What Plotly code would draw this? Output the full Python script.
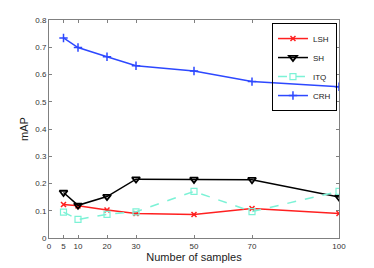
import plotly.graph_objects as go

samples = [5, 10, 20, 30, 50, 70, 100]
lsh = [0.123, 0.118, 0.103, 0.090, 0.086, 0.108, 0.090]
sh = [0.167, 0.120, 0.152, 0.216, 0.215, 0.214, 0.150]
itq = [0.095, 0.068, 0.087, 0.096, 0.171, 0.097, 0.171]
crh = [0.734, 0.699, 0.665, 0.632, 0.613, 0.574, 0.555]
x_ticks = [0, 5, 10, 20, 30, 50, 70, 100]
y_ticks = [0, 0.1, 0.2, 0.3, 0.4, 0.5, 0.6, 0.7, 0.8]
y_tick_text = ["0", "0.1", "0.2", "0.3", "0.4", "0.5", "0.6", "0.7", "0.8"]

FONT = "Liberation Sans, Arial"

fig = go.Figure()
fig.add_trace(go.Scatter(x=samples, y=lsh, name="LSH", mode="lines+markers",
                         line=dict(color="#ff2020", width=1.5),
                         marker=dict(symbol="x-thin", size=5, line=dict(color="#ff2020", width=1.5))))
fig.add_trace(go.Scatter(x=samples, y=sh, name="SH", mode="lines+markers",
                         line=dict(color="black", width=1.5),
                         marker=dict(symbol="triangle-down-open", size=7, color="black",
                                     line=dict(color="black", width=1.8))))
fig.add_trace(go.Scatter(x=samples, y=itq, name="ITQ", mode="lines+markers",
                         line=dict(color="#7cf2d6", width=1.5, dash="dash"),
                         marker=dict(symbol="square-open", size=6, color="#7cf2d6",
                                     line=dict(color="#7cf2d6", width=1.2))))
fig.add_trace(go.Scatter(x=samples, y=crh, name="CRH", mode="lines+markers",
                         line=dict(color="#2d48ff", width=1.5),
                         marker=dict(symbol="cross-thin", size=6, line=dict(color="#2d48ff", width=1.5))))

axis_common = dict(showline=True, linecolor="#808080", linewidth=1, mirror="ticks",
                   ticks="inside", ticklen=3, tickcolor="#808080", showgrid=False, zeroline=False,
                   automargin=False,
                   tickfont=dict(family=FONT, size=8, color="#333333"))
fig.update_xaxes(range=[0, 100], tickvals=x_ticks, ticktext=[str(v) for v in x_ticks],
                 title=dict(text="Number of samples", font=dict(family=FONT, size=11, color="#222222"), standoff=2),
                 **axis_common)
fig.update_yaxes(range=[0, 0.8], tickvals=y_ticks, ticktext=y_tick_text,
                 title=dict(text="mAP", font=dict(family=FONT, size=11, color="#222222"), standoff=4),
                 **axis_common)
# the page body adds an 8px offset, so the figure is 8px smaller in each direction
fig.update_layout(width=366, height=260, margin=dict(l=41, r=35, t=12, b=30),
                  paper_bgcolor="white", plot_bgcolor="white",
                  font=dict(family=FONT, size=8),
                  legend=dict(x=0.993, y=0.986, xanchor="right", yanchor="top",
                              bordercolor="black", borderwidth=1, bgcolor="rgba(0,0,0,0)",
                              font=dict(family=FONT, size=8, color="#222222"), itemwidth=30,
                              tracegroupgap=0),
                  showlegend=True)
fig.write_html("out.html")
